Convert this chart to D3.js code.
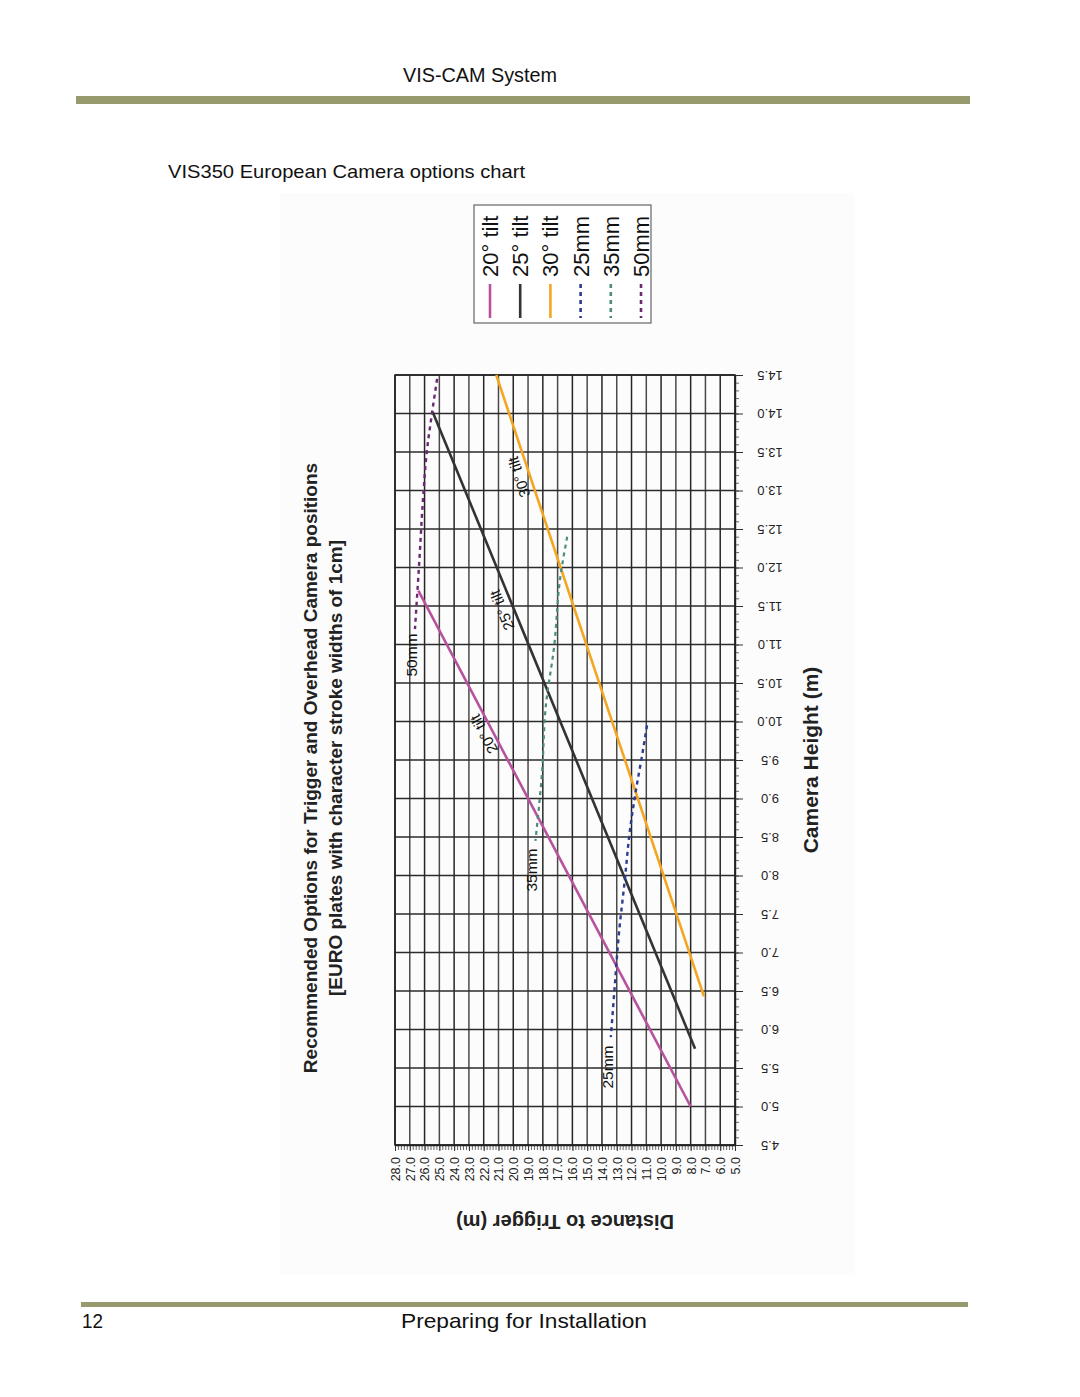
<!DOCTYPE html>
<html>
<head>
<meta charset="utf-8">
<script src="https://cdn.jsdelivr.net/npm/d3@7"></script>
<style>
  html, body { margin: 0; padding: 0; background: #ffffff; }
  svg { display: block; }
</style>
</head>
<body>
<svg id="chart" width="1080" height="1397"></svg>
<script>
// ---------------- DATA ----------------
const pageHeader = "VIS-CAM System";
const pageSubtitle = "VIS350 European Camera options chart";
const pageFooter = "Preparing for Installation";
const pageNumber = "12";

const titleLines = ["Recommended Options for Trigger and Overhead Camera positions",
                    "[EURO plates with character stroke widths of 1cm]"];
const xAxisTitle = "Distance to Trigger (m)";
const yAxisTitle = "Camera Height (m)";

const distanceTicks = [28,27,26,25,24,23,22,21,20,19,18,17,16,15,14,13,12,11,10,9,8,7,6,5];
const heightTicks = [4.5,5.0,5.5,6.0,6.5,7.0,7.5,8.0,8.5,9.0,9.5,10.0,10.5,11.0,11.5,12.0,12.5,13.0,13.5,14.0,14.5];

// series: [distance (m), camera height (m)]
const tilt20 = [[8.0, 5.0], [26.42, 11.7]];
const tilt25 = [[7.7, 5.75], [25.45, 14.02]];
const tilt30 = [[7.1, 6.43], [21.15, 14.5]];
const lens25 = [[10.95, 9.95], [11.25, 9.6], [11.75, 9.05], [12.1, 8.6], [12.45, 7.95], [12.85, 7.25], [13.2, 6.4], [13.4, 5.9]];
const lens35 = [[16.35, 12.4], [16.8, 11.9], [17.25, 10.95], [17.8, 10.2], [18.05, 9.35], [18.5, 8.45]];
const lens50 = [[25.15, 14.45], [25.5, 14.0], [25.85, 13.5], [26.1, 12.9], [26.35, 12.1], [26.65, 11.2]];

const legendLabels = ["20° tilt", "25° tilt", "30° tilt", "25mm", "35mm", "50mm"];

// ---------------- DRAW ----------------
const svg = d3.select("#chart");
const narrow = "'Liberation Sans Narrow', 'Arial Narrow', 'Liberation Sans', Arial, sans-serif";
const sans = "'Liberation Sans', Arial, Helvetica, sans-serif";
const olive = "#969a6d";

// page header
svg.append("text").attr("x", 480).attr("y", 82).attr("text-anchor", "middle")
  .attr("font-family", narrow).attr("font-size", 20).attr("fill", "#111")
  .attr("textLength", 154).attr("lengthAdjust", "spacingAndGlyphs").text(pageHeader);
svg.append("rect").attr("x", 76).attr("y", 96).attr("width", 894).attr("height", 8).attr("fill", olive);
svg.append("text").attr("x", 168).attr("y", 178)
  .attr("font-family", narrow).attr("font-size", 19).attr("fill", "#111")
  .attr("textLength", 357).attr("lengthAdjust", "spacingAndGlyphs").text(pageSubtitle);

// footer
svg.append("rect").attr("x", 81).attr("y", 1302).attr("width", 887).attr("height", 5).attr("fill", olive);
svg.append("text").attr("x", 82).attr("y", 1328)
  .attr("font-family", narrow).attr("font-size", 21).attr("fill", "#111")
  .attr("textLength", 21).attr("lengthAdjust", "spacingAndGlyphs").text(pageNumber);
svg.append("text").attr("x", 401).attr("y", 1328)
  .attr("font-family", narrow).attr("font-size", 21).attr("fill", "#111")
  .attr("textLength", 246).attr("lengthAdjust", "spacingAndGlyphs").text(pageFooter);

// faint image background
svg.append("rect").attr("x", 280).attr("y", 193).attr("width", 575).attr("height", 1082).attr("fill", "#fcfcfc");

// scales
const x = d3.scaleLinear().domain([28, 5]).range([395, 735]);
const y = d3.scaleLinear().domain([4.5, 14.5]).range([1145, 375]);

// grid
const grid = svg.append("g").attr("stroke", "#2b2b2b").attr("stroke-width", 1.5);
grid.selectAll("line.v").data(distanceTicks).join("line")
  .attr("x1", d => x(d)).attr("x2", d => x(d))
  .attr("y1", y(4.5)).attr("y2", y(14.5))
  .attr("stroke", (d, i) => i % 2 === 1 ? "#4a4a4a" : "#262626");
grid.selectAll("line.h").data(heightTicks).join("line")
  .attr("x1", x(28)).attr("x2", x(5))
  .attr("y1", d => y(d)).attr("y2", d => y(d));

// bottom axis: minor ticks
const minorX = d3.range(5, 28.001, 0.2);
svg.append("g").attr("transform", `translate(0,${y(4.5)})`)
  .call(d3.axisBottom(x).tickValues(minorX).tickSize(5).tickFormat("").tickSizeOuter(0))
  .call(g => g.select(".domain").attr("stroke", "#222").attr("stroke-width", 1.4))
  .call(g => g.selectAll(".tick line").attr("stroke", "#444").attr("stroke-width", 0.8));
// bottom axis labels
svg.append("g").attr("transform", `translate(0,${y(4.5)})`)
  .call(d3.axisBottom(x).tickValues(distanceTicks).tickSize(6).tickFormat(d3.format(".1f")).tickSizeOuter(0))
  .call(g => g.select(".domain").remove())
  .call(g => g.selectAll(".tick line").attr("stroke", "#333").attr("stroke-width", 1))
  .call(g => g.selectAll(".tick text")
    .attr("font-family", sans).attr("font-size", 12.5).attr("fill", "#222")
    .attr("text-anchor", "end").attr("transform", "rotate(-90)")
    .attr("x", -12).attr("y", 0).attr("dy", "0.35em"));

// right axis: minor + major ticks
const minorY = d3.range(4.5, 14.501, 0.1);
svg.append("g").attr("transform", `translate(${x(5)},0)`)
  .call(d3.axisRight(y).tickValues(minorY).tickSize(4).tickFormat("").tickSizeOuter(0))
  .call(g => g.select(".domain").attr("stroke", "#222").attr("stroke-width", 1.4))
  .call(g => g.selectAll(".tick line").attr("stroke", "#444").attr("stroke-width", 0.8));
svg.append("g").attr("transform", `translate(${x(5)},0)`)
  .call(d3.axisRight(y).tickValues(heightTicks).tickSize(8).tickFormat(d3.format(".1f")).tickSizeOuter(0))
  .call(g => g.select(".domain").remove())
  .call(g => g.selectAll(".tick line").attr("stroke", "#333").attr("stroke-width", 1))
  .call(g => g.selectAll(".tick text")
    .attr("font-family", sans).attr("font-size", 13).attr("fill", "#222")
    .attr("text-anchor", "middle").attr("x", 0).attr("dy", "0.35em")
    .attr("transform", "translate(35,0) rotate(180)"));

// plot border
svg.append("rect").attr("x", x(28)).attr("y", y(14.5))
  .attr("width", x(5) - x(28)).attr("height", y(4.5) - y(14.5))
  .attr("fill", "none").attr("stroke", "#222").attr("stroke-width", 1.5);

// series
const line = d3.line().x(d => x(d[0])).y(d => y(d[1])).curve(d3.curveMonotoneY);
const series = [
  { data: tilt20, color: "#b8519e", dash: null, w: 2.6 },
  { data: tilt25, color: "#333333", dash: null, w: 2.6 },
  { data: tilt30, color: "#f3a623", dash: null, w: 2.6 },
  { data: lens25, color: "#2d3c8e", dash: "4,4", w: 2.4 },
  { data: lens35, color: "#4b8c7e", dash: "4,4", w: 2.2 },
  { data: lens50, color: "#6a2a72", dash: "4,4", w: 2.4 }
];
svg.append("g").selectAll("path").data(series).join("path")
  .attr("d", s => line(s.data))
  .attr("fill", "none").attr("stroke", s => s.color)
  .attr("stroke-width", s => s.w)
  .attr("stroke-dasharray", s => s.dash);

// in-plot labels
const inLabels = [
  { t: "50mm", px: 412, py: 655, r: -90, fs: 15.5 },
  { t: "35mm", px: 532, py: 870, r: -90, fs: 15.5 },
  { t: "25mm", px: 608, py: 1067, r: -90, fs: 15.5 },
  { t: "20° tilt", px: 484, py: 734, r: -118, fs: 15 },
  { t: "25° tilt", px: 502, py: 610, r: -112, fs: 15 },
  { t: "30° tilt", px: 519, py: 477, r: -108, fs: 15 }
];
svg.append("g").selectAll("text").data(inLabels).join("text")
  .attr("transform", d => `translate(${d.px},${d.py}) rotate(${d.r})`)
  .attr("text-anchor", "middle").attr("dy", "0.35em")
  .attr("font-family", sans).attr("font-size", d => d.fs).attr("fill", "#111")
  .text(d => d.t);

// legend
const lg = svg.append("g");
lg.append("rect").attr("x", 474).attr("y", 205).attr("width", 177).attr("height", 118)
  .attr("fill", "#fff").attr("stroke", "#666").attr("stroke-width", 1.2);
const lx = d3.scalePoint().domain(legendLabels).range([490, 641]);
lg.selectAll("line").data(series).join("line")
  .attr("x1", (s, i) => lx(legendLabels[i])).attr("x2", (s, i) => lx(legendLabels[i]))
  .attr("y1", 284).attr("y2", 318)
  .attr("stroke", s => s.color).attr("stroke-width", 2.6)
  .attr("stroke-dasharray", s => s.dash);
lg.selectAll("text").data(legendLabels).join("text")
  .attr("transform", d => `translate(${lx(d)},277) rotate(-90)`)
  .attr("text-anchor", "start").attr("dy", "0.36em")
  .attr("font-family", sans).attr("font-size", 22).attr("fill", "#111")
  .text(d => d);

// titles
titleLines.forEach((t, i) => {
  svg.append("text").attr("transform", `translate(${310 + i * 25},768) rotate(-90)`)
    .attr("text-anchor", "middle").attr("dy", "0.35em")
    .attr("font-family", sans).attr("font-weight", "bold").attr("font-size", 19).attr("fill", "#222")
    .text(t);
});
svg.append("text").attr("transform", "translate(811,760) rotate(-90)")
  .attr("text-anchor", "middle").attr("dy", "0.35em")
  .attr("font-family", sans).attr("font-weight", "bold").attr("font-size", 21).attr("fill", "#222")
  .text(yAxisTitle);
svg.append("text").attr("transform", "translate(565,1222) rotate(180)")
  .attr("text-anchor", "middle").attr("dy", "0.35em")
  .attr("font-family", sans).attr("font-weight", "bold").attr("font-size", 20).attr("fill", "#222")
  .text(xAxisTitle);
</script>
</body>
</html>
